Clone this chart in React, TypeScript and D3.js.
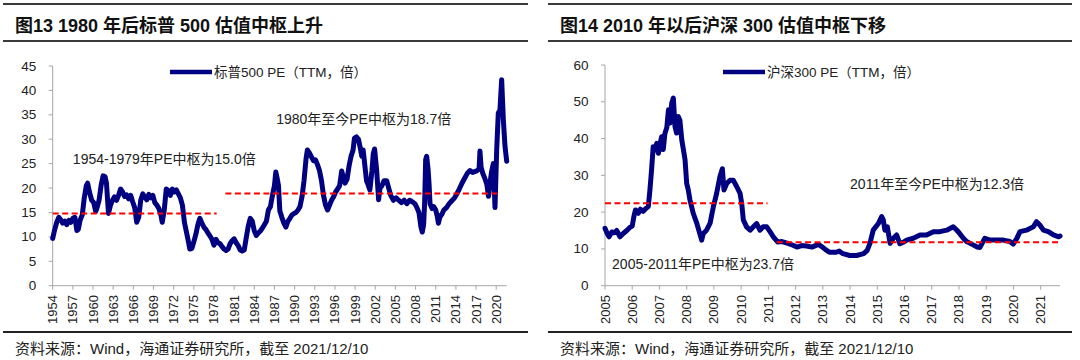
import React from 'react';
import * as d3 from 'd3';

// S&P 500 PE (TTM), decimal years
const spxYears = [
  1954.0, 1954.3, 1954.6, 1954.9, 1955.2, 1955.5, 1955.8, 1956.1, 1956.4, 1956.7, 1957.0, 1957.3, 1957.6, 1957.8,
  1958.1, 1958.4, 1958.7, 1959.0, 1959.2, 1959.5, 1959.8, 1960.1, 1960.4, 1960.6, 1960.9, 1961.2, 1961.5, 1961.8,
  1962.0, 1962.3, 1962.6, 1962.9, 1963.2, 1963.5, 1963.8, 1964.1, 1964.4, 1964.7, 1965.0, 1965.3, 1965.6, 1965.9,
  1966.2, 1966.5, 1966.8, 1967.1, 1967.4, 1967.7, 1968.0, 1968.3, 1968.6, 1968.9, 1969.2, 1969.5, 1969.8, 1970.1,
  1970.3, 1970.6, 1970.9, 1971.2, 1971.5, 1971.8, 1972.1, 1972.4, 1972.7, 1973.0, 1973.3, 1973.6, 1973.9, 1974.2,
  1974.4, 1974.7, 1975.0, 1975.3, 1975.6, 1975.9, 1976.2, 1976.5, 1976.8, 1977.1, 1977.4, 1977.7, 1978.0, 1978.3,
  1978.6, 1978.9, 1979.2, 1979.5, 1979.8, 1980.1, 1980.4, 1980.7, 1981.0, 1981.3, 1981.6, 1981.9, 1982.2, 1982.5,
  1982.8, 1983.1, 1983.4, 1983.7, 1984.0, 1984.3, 1984.6, 1984.9, 1985.2, 1985.5, 1985.8, 1986.1, 1986.4, 1986.7,
  1987.0, 1987.2, 1987.4, 1987.6, 1987.8, 1988.1, 1988.4, 1988.7, 1989.0, 1989.3, 1989.6, 1989.9, 1990.2, 1990.5,
  1990.8, 1991.1, 1991.4, 1991.7, 1991.9, 1992.2, 1992.5, 1992.8, 1993.1, 1993.4, 1993.7, 1994.0, 1994.3, 1994.6,
  1994.9, 1995.2, 1995.5, 1995.8, 1996.1, 1996.4, 1996.7, 1997.0, 1997.2, 1997.5, 1997.8, 1998.1, 1998.4, 1998.7,
  1998.9, 1999.2, 1999.5, 1999.8, 2000.0, 2000.2, 2000.5, 2000.7, 2000.9, 2001.2, 2001.5, 2001.7, 2001.9, 2002.2,
  2002.5, 2002.7, 2003.0, 2003.3, 2003.7, 2004.0, 2004.3, 2004.7, 2005.1, 2005.5, 2005.9, 2006.3, 2006.7, 2007.1,
  2007.5, 2007.9, 2008.2, 2008.5, 2008.8, 2009.0, 2009.2, 2009.35, 2009.5, 2009.65, 2009.85, 2010.0, 2010.15, 2010.45,
  2010.7, 2011.0, 2011.2, 2011.4, 2011.6, 2011.9, 2012.2, 2012.6, 2013.0, 2013.4, 2013.8, 2014.1, 2014.5, 2014.9,
  2015.3, 2015.7, 2016.1, 2016.5, 2016.9, 2017.2, 2017.45, 2017.58, 2017.75, 2018.0, 2018.3, 2018.6, 2018.85, 2019.07,
  2019.33, 2019.57, 2019.82, 2020.07, 2020.31, 2020.56, 2020.81, 2021.06, 2021.31, 2021.56,
];
const spxPE = [
  9.7, 11.5, 13, 14, 13.5, 12.8, 13.2, 12.5, 13.4, 13, 13.8, 14, 11.3, 11.5,
  13.5, 14.5, 18, 20.5, 21, 19, 17.5, 17, 15.2, 16, 17.5, 20.5, 22.5, 22.3,
  21, 14.8, 16.5, 17.5, 18.2, 17.5, 18.5, 19.8, 19.2, 18.3, 18.6, 17.8, 18.5, 17.2,
  16, 13, 14, 17.5, 18.8, 18.2, 17.6, 18.7, 18, 18.5, 17, 16.5, 15.8, 14.5,
  13, 15.5, 19.8, 19.5, 18.5, 19.8, 19.2, 19.6, 18.8, 18, 16.5, 13, 11, 9,
  7.5, 7.6, 9, 10.5, 12.5, 13.8, 12.8, 12, 11.5, 10.8, 10.2, 9.5, 8.3, 9.5,
  8.8, 8.6, 8, 7.5, 7.2, 7.5, 8.6, 9.2, 9.6, 8.8, 8.2, 7.3, 7.1, 7.3,
  9.8, 12.2, 13.8, 13.2, 11.2, 10.3, 10.8, 11.2, 11.8, 12.5, 13.2, 15.5, 16.2, 18.5,
  20.5, 23.3, 22, 20.5, 15.3, 14, 12.8, 12, 13.2, 13.8, 14.5, 14.8, 15, 15.5,
  16.2, 18.2, 21.5, 26, 27.8, 27.2, 26.4, 25.6, 25.8, 24.8, 23.6, 21.5, 18.5, 16.5,
  15.5, 16.5, 17.5, 18.2, 19.2, 19.8, 20.5, 23.5, 22.5, 21, 21.8, 24.5, 26.5, 27.8,
  30.2, 30.5, 30, 28, 26.5, 27.8, 24, 21.5, 20.8, 19.6, 23.5, 27, 28, 23.8,
  17.6, 20, 20.5, 21.5, 21.5, 20, 18.5, 17.5, 18, 17.5, 17, 17.5, 16.8, 17.5,
  17.2, 16.8, 16, 15, 12, 11, 12.5, 17, 25.8, 26.5, 24, 21, 16.8, 15.8,
  16.2, 15.5, 14.4, 12.8, 14, 14.6, 15.5, 16, 16.8, 17.4, 18, 18.7, 19.8, 21,
  22, 23, 23.6, 23.2, 23.4, 23.6, 24, 27.6, 24.3, 23, 22, 20.8, 18.3, 21,
  23.5, 25, 16, 27.8, 35.4, 36, 42.2, 34, 28.5, 25.5,
];

// CSI 300 PE (TTM)
const hsYears = [
  2005.0, 2005.08, 2005.15, 2005.25, 2005.35, 2005.43, 2005.55, 2005.67, 2005.8, 2005.92, 2006.0, 2006.06, 2006.12,
  2006.22, 2006.3, 2006.4, 2006.5, 2006.59, 2006.65, 2006.71, 2006.77, 2006.84, 2006.9, 2006.96, 2007.02, 2007.08,
  2007.14, 2007.2, 2007.27, 2007.33, 2007.39, 2007.45, 2007.51, 2007.57, 2007.63, 2007.69, 2007.75, 2007.82, 2007.88,
  2007.94, 2008.0, 2008.06, 2008.12, 2008.18, 2008.24, 2008.37, 2008.46, 2008.55, 2008.61, 2008.73, 2008.86, 2008.98,
  2009.1, 2009.22, 2009.31, 2009.37, 2009.47, 2009.59, 2009.71, 2009.84, 2009.96, 2010.02, 2010.08, 2010.2, 2010.33,
  2010.45, 2010.57, 2010.69, 2010.81, 2010.94, 2011.06, 2011.18, 2011.34, 2011.5, 2011.72, 2011.9, 2012.05, 2012.22,
  2012.4, 2012.6, 2012.73, 2012.85, 2012.98, 2013.1, 2013.24, 2013.49, 2013.6, 2013.74, 2013.99, 2014.24, 2014.5,
  2014.63, 2014.73, 2014.85, 2015.04, 2015.16, 2015.22, 2015.28, 2015.37, 2015.47, 2015.59, 2015.71, 2015.83, 2015.95,
  2016.08, 2016.32, 2016.57, 2016.81, 2017.06, 2017.3, 2017.55, 2017.79, 2017.85, 2017.97, 2018.16, 2018.28, 2018.52,
  2018.67, 2018.77, 2018.95, 2019.14, 2019.38, 2019.63, 2019.87, 2019.99, 2020.12, 2020.24, 2020.48, 2020.73, 2020.85,
  2020.97, 2021.1, 2021.28, 2021.47, 2021.66, 2021.71,
];
const hsPE = [
  15.6, 14.2, 13.3, 14.6, 14.4, 15, 13.3, 14.2, 15, 15.9, 16.2, 18.8, 20.6,
  19.7, 20.8, 20.2, 21, 21.5, 26, 31.5, 37.8, 36.9, 38.7, 36, 38.5, 40.5,
  37, 41.4, 43, 47.8, 44.2, 49.6, 51, 43.3, 41.5, 46, 45, 39.6, 37,
  34.2, 27.8, 26, 23.3, 21.5, 19.7, 17, 14.7, 12.4, 14.2, 15.1, 17, 21.5,
  25.1, 29.6, 31.8, 26, 27.8, 28.7, 28.7, 26.9, 25.1, 22.4, 17.9, 16, 15.1,
  16, 16.9, 15.1, 16, 16, 14.7, 13.3, 11.9, 12, 11.5, 11, 10.5, 10.9,
  10.8, 10.5, 10.9, 11.2, 10.5, 9.8, 9.1, 9.1, 9.4, 8.7, 8.2, 8.2, 8.7,
  9.6, 11.5, 15.1, 16.9, 18.8, 17.9, 15.1, 16, 11.5, 12.9, 13.8, 11.4, 11.8,
  12.4, 12.9, 13.8, 13.8, 14.7, 14.7, 15.1, 16, 15.6, 14.7, 12.9, 12, 11.1,
  10.5, 10.4, 12.9, 12.4, 12.4, 12.4, 12, 11.3, 12.8, 14.7, 15.1, 16, 17.4,
  16.5, 15.1, 14.7, 13.8, 13.3, 13.5,
];

const spxXTicks = [1954, 1957, 1960, 1963, 1966, 1969, 1972, 1975, 1978, 1981, 1984, 1987, 1990,
  1993, 1996, 1999, 2002, 2005, 2008, 2011, 2014, 2017, 2020];
const hsXTicks = [2005, 2006, 2007, 2008, 2009, 2010, 2011, 2012, 2013, 2014, 2015, 2016, 2017,
  2018, 2019, 2020, 2021];
const spxYTicks = [0, 5, 10, 15, 20, 25, 30, 35, 40, 45];
const hsYTicks = [0, 10, 20, 30, 40, 50, 60];

// dashed "中枢" lines as drawn
const spxCenters = [
  { from: 1954, to: 1978.4, value: 14.8 },
  { from: 1979.7, to: 2020.6, value: 18.9 },
];
const hsCenters = [
  { from: 2005, to: 2010.97, value: 22.4 },
  { from: 2011.3, to: 2021.71, value: 11.8 },
];

const spxNotes = [
  { text: '1954-1979年PE中枢为15.0倍', year: 1957.0, value: 26 },
  { text: '1980年至今PE中枢为18.7倍', year: 1987.25, value: 34.2 },
];
const hsNotes = [
  { text: '2011年至今PE中枢为12.3倍', year: 2014.0, value: 27.6 },
  { text: '2005-2011年PE中枢为23.7倍', year: 2005.26, value: 5.9 },
];

const FONT = "'Liberation Sans', Arial, 'Noto Sans CJK SC', sans-serif";
const NAVY = '#000080';

function Panel({ title, legend, years, values, xTicks, yTicks, xDomain, xRange, yTop, centers, notes, ruleL, ruleR, legendX }) {
  const x = d3.scaleLinear().domain(xDomain).range(xRange);
  const y = d3.scaleLinear().domain([0, yTicks[yTicks.length - 1]]).range([285.7, yTop]);
  const line = d3.line<number>()
    .x((d, i) => x(years[i]))
    .y(d => y(d));
  const axisX = xRange[0];
  const axisY = y(0);

  return (
    <g fontFamily={FONT}>
      <line x1={ruleL} x2={ruleR} y1={4} y2={4} stroke="#3a3a3a" strokeWidth={2} />
      <line x1={ruleL} x2={ruleR} y1={41} y2={41} stroke="#3a3a3a" strokeWidth={2} />
      <text x={ruleL + 12} y={31.5} fontSize={18} fontWeight="bold" fill="#111">{title}</text>

      {/* axes */}
      <line x1={axisX} x2={axisX} y1={axisY} y2={y(yTicks[yTicks.length - 1])} stroke="#a6a6a6" />
      <line x1={axisX} x2={xRange[1]} y1={axisY} y2={axisY} stroke="#a6a6a6" />
      {yTicks.map(t => (
        <g key={'y' + t}>
          <line x1={axisX - 4} x2={axisX} y1={y(t)} y2={y(t)} stroke="#a6a6a6" />
          <text x={axisX - 16.5} y={y(t)} fontSize={13.5} textAnchor="end" dominantBaseline="central" fill="#222">{t}</text>
        </g>
      ))}
      {xTicks.map(t => (
        <g key={'x' + t}>
          <line x1={x(t)} x2={x(t)} y1={axisY} y2={axisY + 4} stroke="#a6a6a6" />
          <text transform={`translate(${x(t)},295) rotate(-90)`} fontSize={13} textAnchor="end"
            dominantBaseline="central" fill="#222">{t}</text>
        </g>
      ))}

      {/* series */}
      <path d={line(values) || ''} fill="none" stroke={NAVY} strokeWidth={5} strokeLinejoin="round" strokeLinecap="round" />
      {centers.map((c, i) => (
        <line key={'c' + i} x1={x(c.from)} x2={x(c.to)} y1={y(c.value)} y2={y(c.value)}
          stroke="#ff0000" strokeWidth={2} strokeDasharray="6,3.5" />
      ))}
      {notes.map((n, i) => (
        <text key={'n' + i} x={x(n.year)} y={y(n.value)} fontSize={14} dominantBaseline="central" fill="#222">{n.text}</text>
      ))}

      {/* legend */}
      <line x1={legendX} x2={legendX + 42} y1={72} y2={72} stroke={NAVY} strokeWidth={4.5} />
      <text x={legendX + 44} y={72} fontSize={13.5} dominantBaseline="central" fill="#222">{legend}</text>

      {/* footer */}
      <line x1={ruleL} x2={ruleR} y1={332} y2={332} stroke="#222" strokeWidth={1.8} />
      <text x={ruleL + 12} y={348} fontSize={15} dominantBaseline="central" fill="#222">资料来源：Wind，海通证券研究所，截至 2021/12/10</text>
    </g>
  );
}

export default function App() {
  return (
    <svg width={1080} height={360} style={{ position: 'absolute', left: 0, top: 0, background: '#fff' }}>
      <Panel
        title="图13 1980 年后标普 500 估值中枢上升"
        legend="标普500 PE（TTM，倍）"
        years={spxYears} values={spxPE}
        xTicks={spxXTicks} yTicks={spxYTicks}
        xDomain={[1954, 2021.56]} xRange={[52.7, 506.7]} yTop={66}
        centers={spxCenters} notes={spxNotes}
        ruleL={3} ruleR={528} legendX={170}
      />
      <Panel
        title="图14 2010 年以后沪深 300 估值中枢下移"
        legend="沪深300 PE（TTM，倍）"
        years={hsYears} values={hsPE}
        xTicks={hsXTicks} yTicks={hsYTicks}
        xDomain={[2005, 2021.71]} xRange={[605, 1060]} yTop={65}
        centers={hsCenters} notes={hsNotes}
        ruleL={548} ruleR={1072} legendX={723}
      />
    </svg>
  );
}
